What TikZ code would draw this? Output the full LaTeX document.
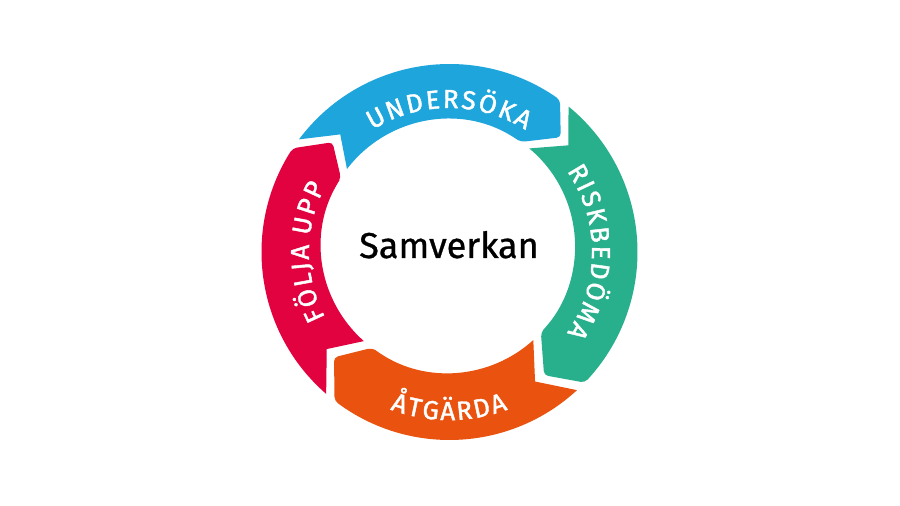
\documentclass[tikz,border=0pt]{standalone}
\usepackage{fontspec}
\setmainfont{Fira Sans}
\newfontfamily\ringfont{Fira Sans}[FakeBold=1.6]
\newfontfamily\midfont{Fira Sans}[FakeBold=0.8]
\usetikzlibrary{calc,decorations.text}
\definecolor{cblue}{HTML}{1EA5DC}
\definecolor{cgreen}{HTML}{28B08D}
\definecolor{corange}{HTML}{E9520F}
\definecolor{cred}{HTML}{E1023F}
\newcommand\lsp{\kern2.2pt}
% #1 colour, #2 tail joint angle, #3 head joint angle (clockwise: #3 < #2)
\newcommand\ringseg[3]{%
  \fill[#1] ($(oc)+(#2+9-3.3:188)$) arc[start angle=#2+9-3.3, end angle=#3+11.5, radius=188]
    [rounded corners=4pt] -- ($(oc)+(#3+9:188)$) -- ($(mc)+(#3:158)$) -- ($(ic)+(#3+10:127)$) -- ($(ic)+(#3+13:127)$) [sharp corners]
    arc[start angle=#3+13, end angle=#2+10-4.8, radius=127] -- ($(mc)+(#2-4:158)$) -- cycle;}
\tikzset{ringtext/.style={decorate, decoration={text along path, text align=center, text color=white, text={|\ringfont\fontsize{26}{30}\selectfont|#1}}}}
\begin{document}
\begin{tikzpicture}[x=1pt,y=1pt]
\useasboundingbox (0,0) rectangle (900,506);
\fill[white] (0,0) rectangle (900,506);
\coordinate (oc) at (449.5,254);
\coordinate (ic) at (448,260);
\coordinate (mc) at (449,257);
\coordinate (tc) at (449,254);
\ringseg{cblue}{137.5}{45}
\ringseg{cgreen}{45}{-53}
\ringseg{corange}{307}{223.3}
\ringseg{cred}{223.3}{137.5}
\path[ringtext={{U\lsp}{N\lsp}{D\lsp}{E\lsp}{R\lsp}{S\lsp}{Ö\lsp}{K\lsp}{A}}] ($(tc)+(150:144)$) arc[start angle=150, end angle=30, radius=144];
\path[ringtext={{R\lsp}{I\lsp}{S\lsp}{K\lsp}{B\lsp}{E\lsp}{D\lsp}{Ö\lsp}{M\lsp}{A}}] ($(tc)+(55:143)$) arc[start angle=55, end angle=-55, radius=143];
\path[ringtext={{Å\lsp}{T\lsp}{G\lsp}{Ä\lsp}{R\lsp}{D\lsp}{A}}] ($(tc)+(205:168)$) arc[start angle=205, end angle=335, radius=168];
\path[ringtext={{F\lsp}{Ö\lsp}{L\lsp}{J\lsp}{A\lsp} {U\lsp}{P\lsp}{P}}] ($(tc)+(235:140)$) arc[start angle=235, end angle=125, radius=140];
\node (center) at (449,248) [anchor=base, font=\midfont\fontsize{36}{40}\selectfont, text=black] {Samverkan};
\end{tikzpicture}
\end{document}
